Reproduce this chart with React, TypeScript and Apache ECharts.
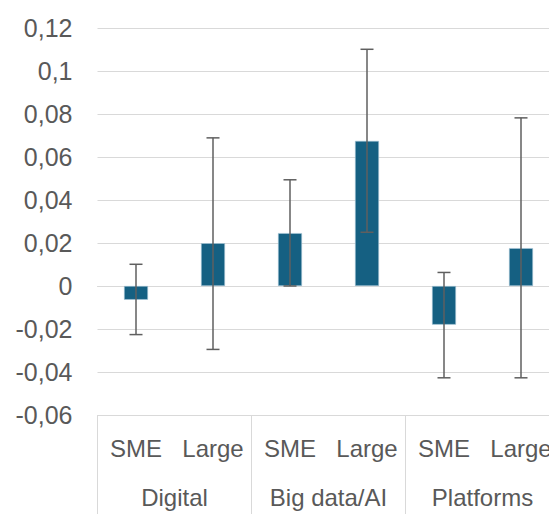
import React, { useEffect, useRef } from "react";
import * as echarts from "echarts";

const categories = ["SME", "Large", "SME", "Large", "SME", "Large"];
const groups = ["Digital", "Big data/AI", "Platforms"];
const values = [-0.0064, 0.0199, 0.0246, 0.0675, -0.018, 0.0176];
const errLow = [-0.0226, -0.0295, 0.0, 0.025, -0.0427, -0.0427];
const errHigh = [0.0101, 0.0689, 0.0494, 0.1101, 0.0063, 0.0782];
const yTicks = { min: -0.06, max: 0.12, interval: 0.02 };

const FONT = "Liberation Sans";
const TEXT = "#595959";
const GRID = "#d9d9d9";

export default function App() {
  const ref = useRef<HTMLDivElement>(null);
  useEffect(() => {
    document.body.style.margin = "0";
    if (!ref.current) return;
    const chart = echarts.init(ref.current, null, { renderer: "svg" });
    const errData = categories.map((_, i) => [i, errLow[i], errHigh[i]]);
    chart.setOption({
      animation: false,
      textStyle: { fontFamily: FONT },
      grid: { left: 97.5, top: 28, width: 462, height: 387 },
      xAxis: [
        {
          type: "category",
          data: categories,
          position: "bottom",
          axisLine: { show: true, lineStyle: { color: GRID, width: 1 } },
          axisTick: { show: false },
          axisLabel: { color: TEXT, fontSize: 24, margin: 21, fontFamily: FONT, interval: 0 },
        },
        {
          type: "category",
          data: groups,
          position: "bottom",
          axisLine: { show: false },
          axisTick: { show: true, length: 99, lineStyle: { color: GRID, width: 1 } },
          axisLabel: { color: TEXT, fontSize: 24, margin: 70, fontFamily: FONT, interval: 0 },
        },
      ],
      yAxis: {
        type: "value",
        min: yTicks.min,
        max: yTicks.max,
        interval: yTicks.interval,
        axisLine: { show: false },
        axisTick: { show: false },
        splitLine: { lineStyle: { color: GRID, width: 1 } },
        axisLabel: {
          color: TEXT,
          fontSize: 25,
          margin: 25,
          fontFamily: FONT,
          formatter: (v: number) => String(Number(v.toFixed(2))).replace(".", ","),
        },
      },
      series: [
        {
          type: "bar",
          data: values,
          xAxisIndex: 0,
          barWidth: 24,
          itemStyle: { color: "#156082", borderColor: "#a9c8d8", borderWidth: 0.6 },
        },
        {
          type: "custom",
          xAxisIndex: 0,
          data: errData,
          encode: { x: 0, y: [1, 2] },
          z: 5,
          renderItem: (params: any, api: any) => {
            const x = api.value(0);
            const lo = api.coord([x, api.value(1)]);
            const hi = api.coord([x, api.value(2)]);
            const hw = 6.5;
            const style = { stroke: "#5f5f5f", lineWidth: 1.5 };
            return {
              type: "group",
              children: [
                { type: "line", shape: { x1: hi[0], y1: hi[1], x2: lo[0], y2: lo[1] }, style },
                { type: "line", shape: { x1: hi[0] - hw, y1: hi[1], x2: hi[0] + hw, y2: hi[1] }, style },
                { type: "line", shape: { x1: lo[0] - hw, y1: lo[1], x2: lo[0] + hw, y2: lo[1] }, style },
              ],
            };
          },
        },
      ],
    });
    return () => chart.dispose();
  }, []);
  return (
    <div style={{ width: 549, height: 514, overflow: "hidden", position: "relative" }}>
      <div ref={ref} style={{ width: 562, height: 514 }} />
    </div>
  );
}
